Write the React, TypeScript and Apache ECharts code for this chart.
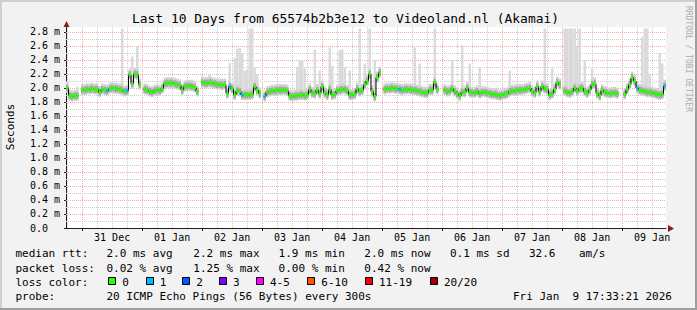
import React, { useEffect, useRef } from 'react';
import * as echarts from 'echarts';

const FONT = '"DejaVu Sans Mono", monospace';

// Hours from the graph start (Tue Dec 30 17:33:21) to midnight of Dec 31
const FIRST_MIDNIGHT = 6.4425;
const RANGE_HOURS = 240;

const dayLabels = ['31 Dec', '01 Jan', '02 Jan', '03 Jan', '04 Jan', '05 Jan', '06 Jan', '07 Jan', '08 Jan', '09 Jan'];
const yTickValues = [0, 0.2, 0.4, 0.6, 0.8, 1.0, 1.2, 1.4, 1.6, 1.8, 2.0, 2.2, 2.4, 2.6, 2.8];
const yTickLabels = ['0.0', '0.2 m', '0.4 m', '0.6 m', '0.8 m', '1.0 m', '1.2 m', '1.4 m', '1.6 m', '1.8 m', '2.0 m', '2.2 m', '2.4 m', '2.6 m', '2.8 m'];
const yMinorValues = [0.1, 0.3, 0.5, 0.7, 0.9, 1.1, 1.3, 1.5, 1.7, 1.9, 2.1, 2.3, 2.5, 2.7];

// median rtt (seconds), one value per hour of the 10-day window
const medianRtt: (number | null)[] = [
  2.0, 1.89, 1.88, 1.89, 1.89, null, 1.97, 1.97, 1.98, 1.98,
  1.99, 1.98, 1.98, 1.94, 1.98, 1.97, 1.96, 1.99, 2.0, 1.99,
  1.99, 1.98, 1.97, 1.95, 1.96, 2.19, 2.06, 2.2, 2.19, 2.05,
  null, 1.98, 1.97, 1.95, 1.94, 1.96, 1.97, 1.96, 1.99, 2.06,
  2.07, 2.07, 2.07, 2.06, 2.05, 2.04, 1.97, 2.02, 2.03, 2.03,
  2.02, 2.01, 1.95, null, 2.08, 2.07, 2.07, 2.08, 2.07, 2.06,
  2.05, 2.05, 2.04, 2.05, 1.92, 2.02, 1.99, 1.9, 1.96, 1.95,
  1.9, 1.9, 1.9, 1.9, 1.91, 2.02, 1.97, 1.92, null, 1.88,
  1.94, 1.95, 1.96, 1.96, 1.97, 1.97, 1.97, 1.97, 1.96, 1.89,
  1.88, 1.89, 1.89, 1.9, 1.9, 1.89, 1.9, 1.98, 1.93, 1.92,
  1.97, 1.92, 2.02, 1.93, 1.9, 1.98, 1.9, 1.91, 1.96, 1.97,
  1.98, 1.98, 1.96, 1.9, 1.9, 1.91, 1.99, 1.95, 1.97, 2.05,
  2.1, 2.2, 1.95, 1.88, 2.15, 2.22, null, 1.98, 1.99, 1.99,
  2.0, 1.99, 1.99, 1.98, 1.97, 1.98, 1.98, 1.98, 1.97, 1.97,
  1.96, 1.95, 1.94, 1.93, 1.93, 1.97, 1.97, 2.08, 1.98, null,
  null, 1.97, 1.95, 1.96, 1.99, 1.95, 1.92, 1.89, 1.94, 1.94,
  2.0, 1.94, 1.93, 1.93, 1.95, 1.92, 1.94, 1.94, 1.93, 1.92,
  1.91, 1.91, 1.9, 1.89, 1.9, 1.91, 1.92, 1.95, 1.96, 1.96,
  1.97, 1.97, 1.97, 1.98, 1.99, 2.0, 1.95, 1.93, 2.02, 1.95,
  2.02, 1.99, 1.98, 1.9, 1.92, 1.98, 2.08, 2.05, null, 1.96,
  1.94, 1.93, 1.95, 2.0, 1.96, 1.99, 2.0, 1.95, 1.93, 1.97,
  2.05, 2.06, 1.92, 1.89, 1.97, 1.94, 1.93, 1.92, 1.93, 1.93,
  1.92, null, null, 1.91, 1.98, 2.05, 2.15, 2.1, 2.0, 1.97,
  1.96, 1.95, 1.94, 1.94, 1.93, 1.92, 1.91, 1.9, 1.91, 2.03,
];

// hours where 1 of 20 pings was lost
const loss1Hours = [16, 24, 65, 70, 79, 133, 228, 239];

// smoke spikes: hour and highest ping rtt (seconds)
const spikeHours = [4, 19, 22, 26, 28, 40, 44, 48, 50, 57, 62, 65, 67, 68, 69, 70, 71, 72, 73, 74, 75, 76, 84, 92, 93, 94, 95, 99, 101, 105, 106, 109, 110, 111, 113, 117, 119, 121, 123, 139, 141, 147, 154, 158, 161, 165, 177, 191, 194, 199, 200, 201, 202, 203, 204, 205, 207, 210, 230, 231, 232, 233, 237, 238];
const spikeTops = [2.02, 2.07, 2.85, 2.45, 2.6, 2.12, 2.11, 2.1, 2.12, 2.2, 2.13, 2.36, 2.43, 2.56, 2.57, 2.5, 2.25, 2.26, 2.85, 2.85, 2.3, 2.2, 2.05, 2.3, 2.4, 2.4, 2.28, 2.55, 2.25, 2.58, 2.32, 2.54, 2.55, 2.3, 2.25, 2.85, 2.35, 2.85, 2.4, 2.58, 2.35, 2.85, 2.4, 2.61, 2.35, 2.3, 2.25, 2.85, 2.28, 2.85, 2.85, 2.85, 2.85, 2.85, 2.6, 2.85, 2.4, 2.28, 2.73, 2.85, 2.85, 2.2, 2.5, 2.35];

const lossNames = ['0', '1', '2', '3', '4-5', '6-10', '11-19', '20/20'];
const lossColors = ['#26ff00', '#00b8ff', '#0059ff', '#7e00ff', '#ff00ff', '#ff5500', '#ff0000', '#a10000'];

const rttStats = ['2.0 ms avg', '2.2 ms max', '1.9 ms min', '2.0 ms now', '0.1 ms sd', '32.6', 'am/s'];
const lossStats = ['0.02 % avg', '1.25 % max', '0.00 % min', '0.42 % now'];

const TITLE = 'Last 10 Days from 65574b2b3e12 to Videoland.nl (Akamai)';
const PROBE = '20 ICMP Echo Pings (56 Bytes) every 300s';
const DATE = 'Fri Jan  9 17:33:21 2026';

const midnightHours = dayLabels.map((_, i) => FIRST_MIDNIGHT + 24 * i);
const noonHours = dayLabels.map((_, i) => FIRST_MIDNIGHT + 12 + 24 * i);
const sixHourMinors: number[] = [];
for (let t = FIRST_MIDNIGHT - 6; t < RANGE_HOURS; t += 6) {
  if (!midnightHours.some((m) => Math.abs(m - t) < 0.01)) sixHourMinors.push(t);
}

function text(t: string, x: number, y: number, size: number, extra: any = {}) {
  const align = extra.align || 'left';
  return {
    type: 'text',
    x,
    y,
    rotation: extra.rotation || 0,
    silent: true,
    z: 10,
    style: {
      text: t,
      x: 0,
      y: 0,
      fill: extra.fill || '#000',
      font: `${size}px ${FONT}`,
      align,
      textAlign: align,
      verticalAlign: 'middle',
      textVerticalAlign: 'middle',
    },
  };
}

export default function App() {
  const ref = useRef<HTMLDivElement>(null);

  useEffect(() => {
    document.body.style.margin = '0';
    const chart = echarts.init(ref.current as HTMLDivElement, null, { renderer: 'svg' });

    const medianLine = medianRtt.map((v, h) => [h + 0.5, v === null ? null : v]);
    const medianPts: number[][] = [];
    medianRtt.forEach((v, h) => {
      if (v !== null) medianPts.push([h + 0.5, v, loss1Hours.includes(h) ? 1 : 0]);
    });
    const spikeData: number[][] = [];
    spikeHours.forEach((h, i) => {
      const base = medianRtt[h];
      if (base !== null) spikeData.push([h + 0.5, base, spikeTops[i]]);
    });
    const gridItems: number[][] = [];
    sixHourMinors.forEach((v) => gridItems.push([0, v]));
    midnightHours.forEach((v) => gridItems.push([1, v]));
    yMinorValues.forEach((v) => gridItems.push([2, v]));
    yTickValues.filter((v) => v > 0).forEach((v) => gridItems.push([3, v]));

    const graphic: any[] = [];
    // frame
    graphic.push({ type: 'rect', silent: true, z: 9, shape: { x: 0, y: 0, width: 697, height: 2 }, style: { fill: '#cfcfcf' } });
    graphic.push({ type: 'rect', silent: true, z: 9, shape: { x: 0, y: 0, width: 2, height: 310 }, style: { fill: '#cfcfcf' } });
    graphic.push({ type: 'rect', silent: true, z: 9, shape: { x: 0, y: 308, width: 697, height: 2 }, style: { fill: '#9e9e9e' } });
    graphic.push({ type: 'rect', silent: true, z: 9, shape: { x: 695, y: 0, width: 2, height: 310 }, style: { fill: '#9e9e9e' } });
    // axis arrows
    graphic.push({ type: 'polygon', silent: true, z: 9, shape: { points: [[668, 225], [674, 228.5], [668, 232]] }, style: { fill: '#8c1c1c' } });
    graphic.push({ type: 'polygon', silent: true, z: 9, shape: { points: [[63.5, 27], [66.5, 21], [69.5, 27]] }, style: { fill: '#8c1c1c' } });
    // title and side texts
    graphic.push(text(TITLE, 345.5, 18.5, 12.9, { align: 'center' }));
    graphic.push(text('Seconds', 10, 127, 11, { align: 'center', rotation: Math.PI / 2 }));
    graphic.push(text('RRDTOOL / TOBI OETIKER', 688, 59, 8, { align: 'center', rotation: -Math.PI / 2, fill: '#ababab' }));
    // legend rows
    const col = [106.5, 193.3, 278.6, 364.3, 450, 529, 579];
    graphic.push(text('median rtt:', 15.5, 253.5, 11));
    rttStats.forEach((s, i) => graphic.push(text(s, col[i], 253.5, 11)));
    graphic.push(text('packet loss:', 15.5, 268, 11));
    lossStats.forEach((s, i) => graphic.push(text(s, col[i], 268, 11)));
    graphic.push(text('loss color:', 15.5, 282, 11));
    const boxX = [108.3, 145.7, 182.3, 219, 256, 307.3, 365, 430];
    lossNames.forEach((n, i) => {
      graphic.push({
        type: 'rect', silent: true, z: 10,
        shape: { x: Math.round(boxX[i]) + 0.5, y: 277.5, width: 7, height: 7 },
        style: { fill: lossColors[i], stroke: '#000', lineWidth: 1 },
      });
      graphic.push(text(n, boxX[i] + 14, 282, 11));
    });
    graphic.push(text('probe:', 15.5, 296.5, 11));
    graphic.push(text(PROBE, 106.5, 296.5, 11));
    graphic.push(text(DATE, 513, 296.5, 11));

    const option: any = {
      animation: false,
      backgroundColor: '#f2f2f2',
      grid: { left: 66, top: 27, width: 600, height: 201, show: true, backgroundColor: '#ffffff', borderWidth: 0 },
      xAxis: {
        type: 'value',
        min: 0,
        max: RANGE_HOURS,
        axisLine: { show: true, onZero: false, lineStyle: { color: '#1f1f1f', width: 1 } },
        axisTick: { show: true, length: 3, customValues: midnightHours, lineStyle: { color: '#1f1f1f' } },
        axisLabel: {
          show: true,
          customValues: noonHours,
          formatter: (v: number) => dayLabels[Math.round((v - FIRST_MIDNIGHT - 12) / 24)] || '',
          fontFamily: FONT,
          fontSize: 10,
          color: '#000',
          margin: 4,
        },
        splitLine: { show: false },
      },
      yAxis: {
        type: 'value',
        min: 0,
        max: 2.8714,
        axisLine: { show: true, onZero: false, lineStyle: { color: '#1f1f1f', width: 1 } },
        axisTick: { show: true, length: 2, customValues: yTickValues, lineStyle: { color: '#1f1f1f' } },
        axisLabel: {
          show: true,
          customValues: yTickValues,
          formatter: (v: number) => {
            const s = yTickLabels[Math.round(v / 0.2)] || '';
            return s.indexOf('m') < 0 ? s + '{t| m}' : s;
          },
          rich: { t: { color: 'rgba(0,0,0,0)', fontFamily: FONT, fontSize: 10 } },
          fontFamily: FONT,
          fontSize: 10,
          color: '#000',
          margin: 6,
        },
        splitLine: { show: false },
      },
      graphic,
      series: [
        {
          type: 'custom',
          name: 'grid',
          z: 1,
          silent: true,
          data: gridItems,
          encode: { x: 0, y: 1 },
          renderItem: (params: any, api: any) => {
            const kind = api.value(0);
            const v = api.value(1);
            const cs = params.coordSys;
            const color = kind === 1 || kind === 3 ? '#f4a8a8' : '#cccccc';
            if (kind < 2) {
              const p = api.coord([v, 0]);
              const x = Math.round(p[0]) + 0.5;
              return { type: 'line', shape: { x1: x, y1: cs.y, x2: x, y2: cs.y + cs.height }, style: { stroke: color, lineWidth: 1, lineDash: [1, 1] } };
            }
            const p = api.coord([0, v]);
            const y = Math.round(p[1]) + 0.5;
            return { type: 'line', shape: { x1: cs.x, y1: y, x2: cs.x + cs.width, y2: y }, style: { stroke: color, lineWidth: 1, lineDash: [1, 1] } };
          },
        },
        {
          type: 'custom',
          name: 'smoke spikes',
          z: 2,
          silent: true,
          clip: true,
          data: spikeData,
          encode: { x: 0, y: 1 },
          renderItem: (params: any, api: any) => {
            const h = api.value(0);
            const a = api.coord([h - 0.5, api.value(2)]);
            const b = api.coord([h + 0.5, api.value(1)]);
            return { type: 'rect', shape: { x: a[0], y: a[1], width: b[0] - a[0], height: b[1] - a[1] }, style: { fill: '#dadada' } };
          },
        },
        {
          type: 'custom',
          name: 'smoke',
          z: 3,
          silent: true,
          data: medianPts,
          encode: { x: 0, y: 1 },
          renderItem: (params: any, api: any) => {
            const h = api.value(0);
            const v = api.value(1);
            const a = api.coord([h - 0.5, v]);
            const b = api.coord([h + 0.5, v]);
            return {
              type: 'group',
              children: [
                { type: 'rect', shape: { x: a[0], y: a[1] - 6, width: b[0] - a[0], height: 11 }, style: { fill: '#d2d2d2' } },
                { type: 'rect', shape: { x: a[0], y: a[1] - 3.5, width: b[0] - a[0], height: 7 }, style: { fill: '#aaaaaa' } },
              ],
            };
          },
        },
        {
          type: 'line',
          name: 'median rtt',
          z: 4,
          silent: true,
          step: 'middle',
          symbol: 'none',
          connectNulls: false,
          data: medianLine,
          lineStyle: { color: '#000', width: 1 },
        },
        {
          type: 'custom',
          name: 'loss color',
          z: 5,
          silent: true,
          data: medianPts,
          encode: { x: 0, y: 1 },
          renderItem: (params: any, api: any) => {
            const h = api.value(0);
            const v = api.value(1);
            const a = api.coord([h - 0.5, v]);
            const b = api.coord([h + 0.5, v]);
            return { type: 'rect', shape: { x: a[0], y: a[1] - 1.5, width: b[0] - a[0], height: 3 }, style: { fill: lossColors[api.value(2)] } };
          },
        },
      ],
    };

    chart.setOption(option);
    return () => chart.dispose();
  }, []);

  return <div ref={ref} style={{ width: 697, height: 310 }} />;
}
